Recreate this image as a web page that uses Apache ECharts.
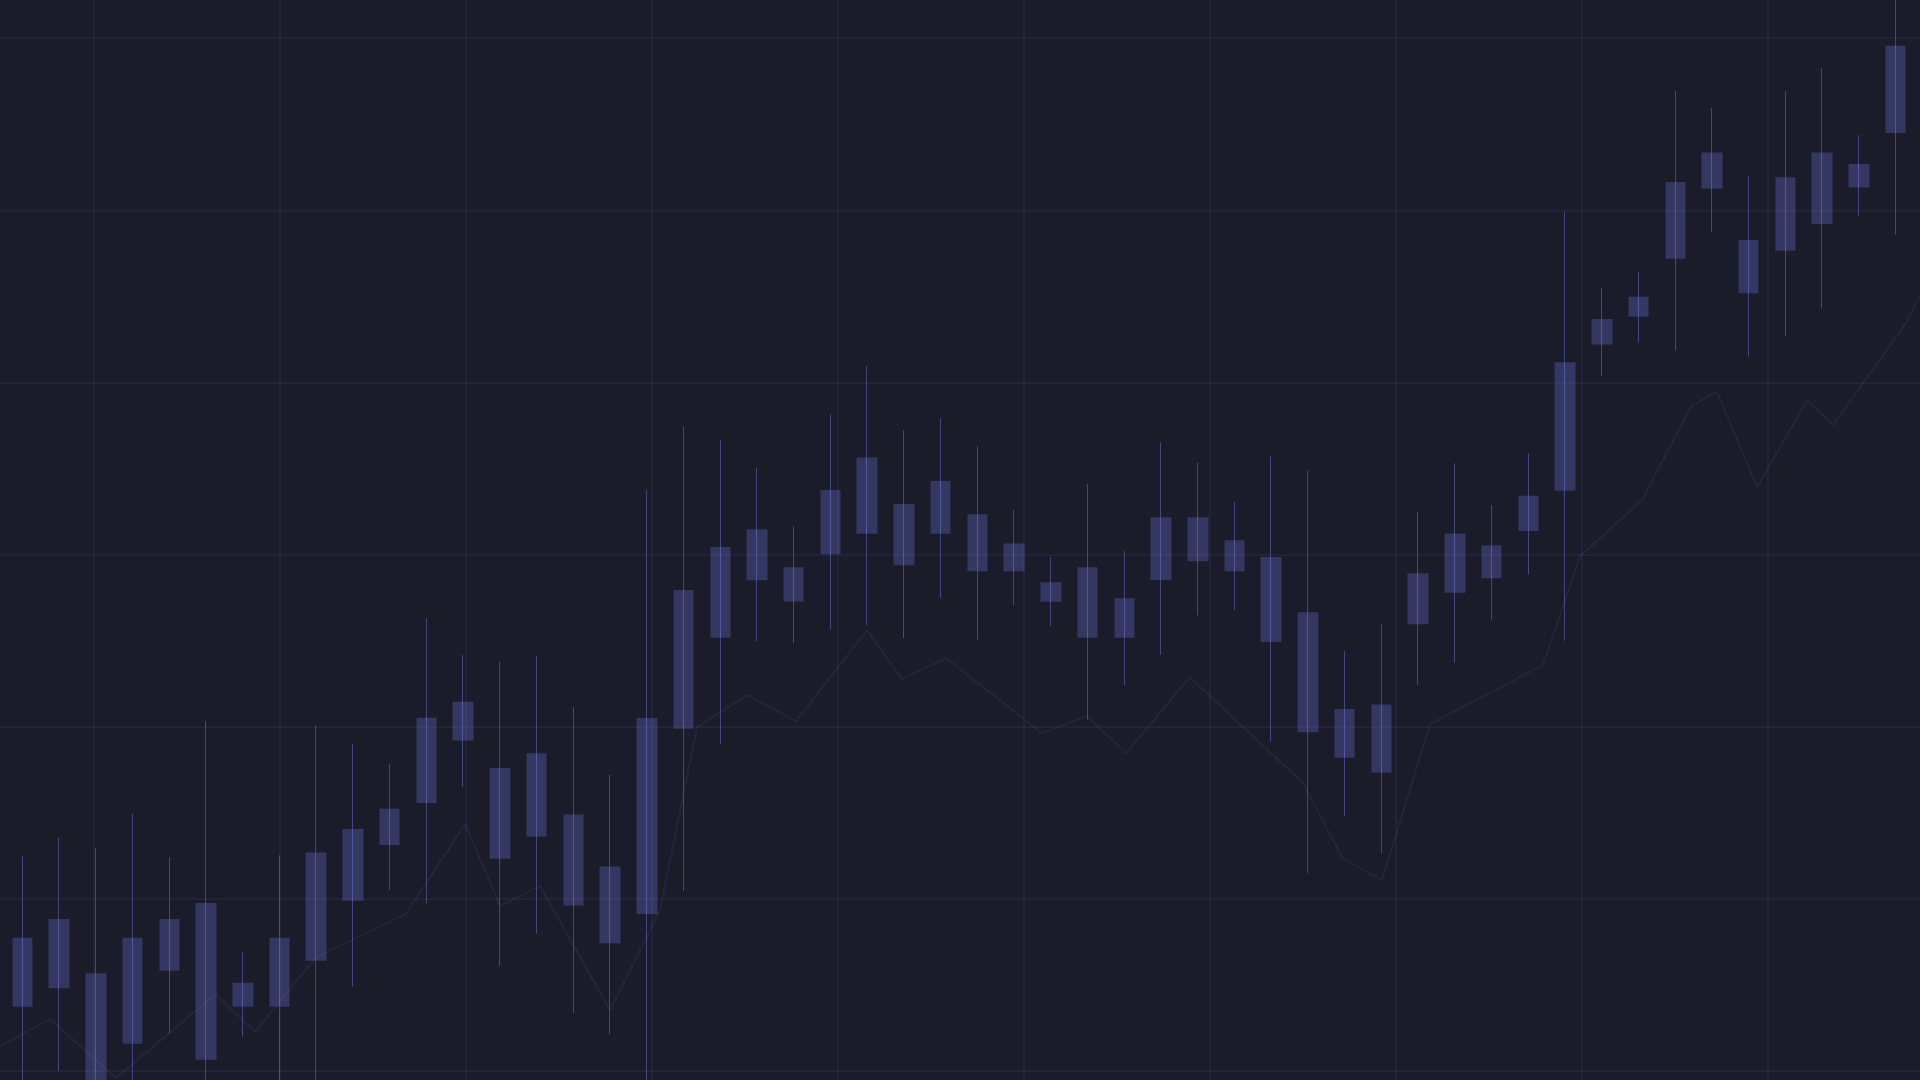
<!DOCTYPE html>
<html>
<head>
<meta charset="utf-8">
<style>
  html, body { margin: 0; padding: 0; background: #1b1c2a; width: 1920px; height: 1080px; overflow: hidden; position: relative; }
  #chart { position: absolute; left: -92px; top: -134px; width: 2046px; height: 1377px; }
</style>
<script src="https://cdn.jsdelivr.net/npm/echarts@6/dist/echarts.min.js"></script>
</head>
<body>
<div id="chart"></div>
<script>
// ---- data ----
const categories = ['1','2','3','4','5','6','7','8','9','10','11','12','13','14','15','16','17','18','19','20',
  '21','22','23','24','25','26','27','28','29','30','31','32','33','34','35','36','37','38','39','40',
  '41','42','43','44','45','46','47','48','49','50','51','52'];

const openValues  = [113.73,114.80,115.67,111.58,115.82,119.75,115.12,113.73,116.40,119.88,123.12,125.57,129.19,127.60,123.61,124.90,121.87,119.12,129.88,135.17,
  138.51,139.26,140.02,141.21,142.94,141.21,142.34,140.64,138.39,139.26,137.46,138.52,139.61,140.83,139.86,136.65,131.02,131.29,135.95,137.78,
  138.62,141.36,143.70,152.20,153.81,157.18,161.25,158.27,157.65,159.20,161.32,164.49];
const closeValues = [117.73,118.82,108.31,117.73,118.82,110.65,113.73,117.73,122.69,124.05,125.23,130.51,131.45,122.33,128.46,119.61,117.41,130.50,137.94,140.43,
  141.47,137.27,143.75,145.64,139.37,144.27,139.03,139.03,137.25,135.16,135.16,142.17,142.17,139.03,134.92,129.68,128.19,127.32,138.91,141.22,
  140.53,143.41,151.17,153.68,154.98,161.64,163.35,155.18,161.92,163.35,162.68,169.55];
const lowValues   = [107.73,110.01,106.57,108.31,112.18,107.73,111.99,108.31,108.60,114.89,120.51,119.75,126.49,116.09,117.95,113.36,112.12,108.31,120.45,128.97,
  134.97,134.85,135.63,135.89,135.14,137.47,135.06,137.06,135.84,130.38,132.41,134.19,136.47,136.77,129.12,121.51,124.80,122.65,132.41,133.69,
  136.23,138.85,134.99,150.36,152.33,151.86,158.71,151.50,152.69,154.30,159.65,158.58];
const highValues  = [122.48,123.57,122.96,124.92,122.40,130.32,116.92,122.52,130.07,128.98,127.84,136.30,134.15,133.79,134.13,131.13,127.21,143.75,147.43,146.68,
  145.02,141.65,148.16,150.93,147.22,147.92,146.29,142.61,139.86,144.08,140.19,146.52,145.32,143.08,145.71,144.84,134.38,135.95,142.47,145.30,
  142.86,145.90,159.88,155.49,156.43,166.93,165.94,161.97,166.93,168.25,164.36,173.35];

// overlay trend line: x positions on its own value axis, y in price units
const trendX = [0.387,0.763,1.118,1.656,1.866,2.194,2.677,2.995,3.183,3.398,3.774,4.043,4.242,4.511,4.774,5.156,5.344,5.581,
  6.097,6.339,6.548,6.892,7.500,7.715,7.925,8.183,8.790,8.989,9.323,9.586,9.726,9.941,10.210,10.349,10.737,10.871];
const trendY = [110.82,113.01,109.59,114.47,112.26,116.61,119.11,124.34,119.58,120.74,113.54,119.34,129.97,131.83,130.32,135.60,132.76,133.98,
  129.62,130.61,128.46,132.87,126.72,122.31,121.09,130.15,133.57,139.90,143.15,148.61,149.48,143.91,148.96,147.51,153.37,156.16];

// axis ranges / ticks
const priceMin = 100, priceMax = 180, priceStep = 10;
const gridXMin = 0, gridXMax = 11, gridXStep = 1;

// ---- build ----
const ohlc = categories.map((c, i) => [openValues[i], closeValues[i], lowValues[i], highValues[i]]);
const trend = trendX.map((x, i) => [x, trendY[i]]);

const chart = echarts.init(document.getElementById('chart'), null, { renderer: 'canvas' });

const bodyColor = 'rgba(120,126,240,0.28)';
const wickColor = 'rgba(125,130,250,0.42)';
const gridColor = 'rgba(125,130,250,0.075)';

chart.setOption({
  backgroundColor: '#1b1c2a',
  animation: false,
  grid: [
    { left: 0, right: 0, top: 0, bottom: 0, containLabel: false },
    { left: 96, right: 40, top: 0, bottom: 0, containLabel: false }
  ],
  xAxis: [
    { type: 'value', gridIndex: 0, min: gridXMin, max: gridXMax, interval: gridXStep, z: 5,
      axisLine: { show: false }, axisTick: { show: false }, axisLabel: { show: false },
      splitLine: { show: true, lineStyle: { color: gridColor, width: 2 } } },
    { type: 'category', gridIndex: 1, data: categories, boundaryGap: true,
      axisLine: { show: false }, axisTick: { show: false }, axisLabel: { show: false },
      splitLine: { show: false } }
  ],
  yAxis: [
    { type: 'value', gridIndex: 0, min: priceMin, max: priceMax, interval: priceStep, z: 5,
      axisLine: { show: false }, axisTick: { show: false }, axisLabel: { show: false },
      splitLine: { show: true, lineStyle: { color: gridColor, width: 2 } } },
    { type: 'value', gridIndex: 1, min: priceMin, max: priceMax, interval: priceStep,
      axisLine: { show: false }, axisTick: { show: false }, axisLabel: { show: false },
      splitLine: { show: false } }
  ],
  series: [
    {
      type: 'candlestick', name: 'body', xAxisIndex: 1, yAxisIndex: 1,
      data: ohlc, barWidth: 21, z: 2,
      itemStyle: { color: bodyColor, color0: bodyColor, borderColor: bodyColor, borderColor0: bodyColor, borderWidth: 0 }
    },
    {
      type: 'candlestick', name: 'wick', xAxisIndex: 1, yAxisIndex: 1,
      data: ohlc, barWidth: 0.001, z: 3,
      itemStyle: { color: wickColor, color0: wickColor, borderColor: wickColor, borderColor0: wickColor, borderWidth: 1 }
    },
    {
      type: 'line', name: 'trend', xAxisIndex: 0, yAxisIndex: 0,
      data: trend, showSymbol: false, symbol: 'none', z: 4,
      lineStyle: { color: 'rgba(125,130,250,0.085)', width: 2 }
    }
  ]
});
</script>
</body>
</html>
